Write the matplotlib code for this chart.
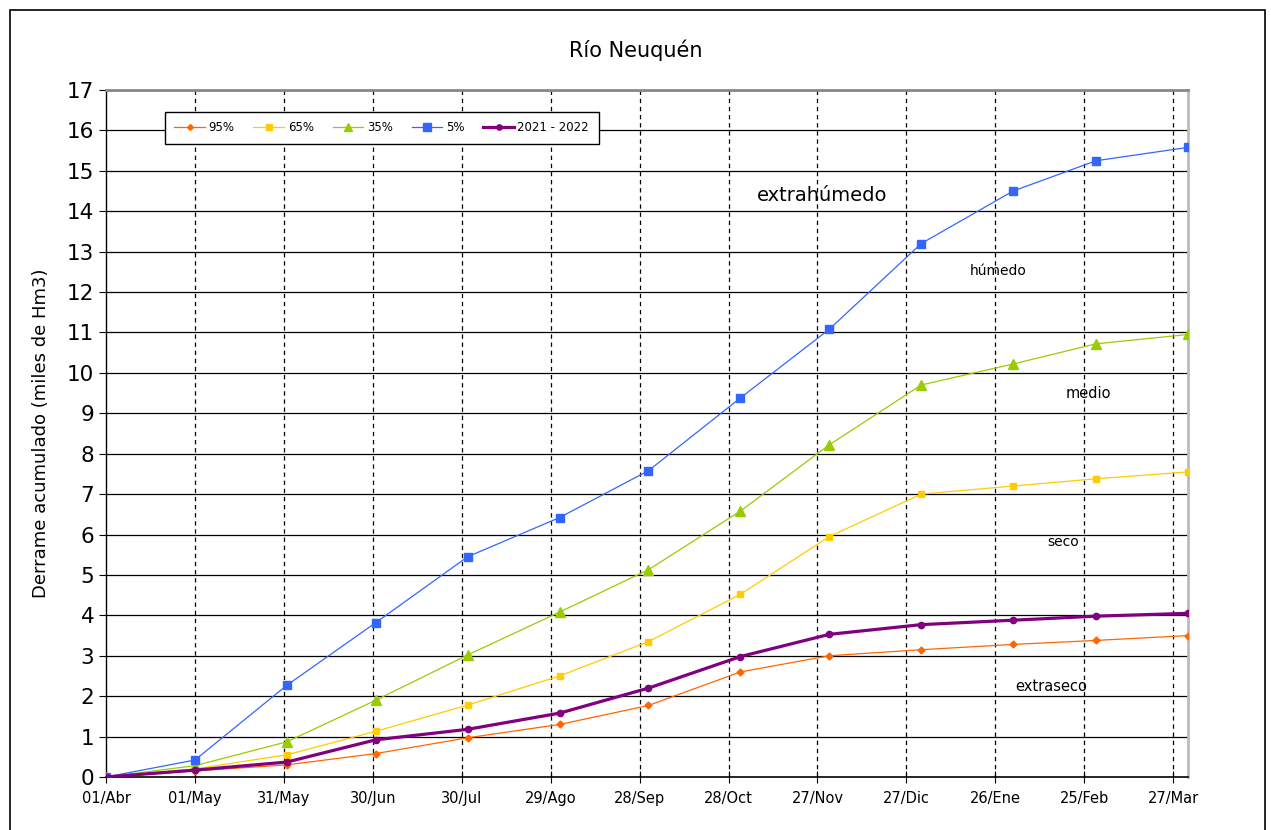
import matplotlib.pyplot as plt
from matplotlib.patches import Rectangle

# días desde 01/Abr (inicio de cada mes)
dias = [0, 30, 61, 91, 122, 153, 183, 214, 244, 275, 306, 334, 365]

p95 = [0, 0.15, 0.30, 0.58, 0.97, 1.30, 1.77, 2.60, 3.00, 3.15, 3.28, 3.38, 3.50]
p65 = [0, 0.20, 0.55, 1.13, 1.78, 2.50, 3.35, 4.52, 5.95, 7.00, 7.20, 7.38, 7.55]
p35 = [0, 0.28, 0.87, 1.90, 3.02, 4.08, 5.13, 6.58, 8.22, 9.70, 10.22, 10.72, 10.95]
p5 = [0, 0.42, 2.27, 3.82, 5.45, 6.42, 7.58, 9.38, 11.08, 13.20, 14.50, 15.25, 15.58]
actual = [0, 0.17, 0.37, 0.92, 1.18, 1.58, 2.20, 2.98, 3.53, 3.77, 3.88, 3.98, 4.05]

tick_pos = [0, 30, 60, 90, 120, 150, 180, 210, 240, 270, 300, 330, 360]
tick_labels = ['01/Abr', '01/May', '31/May', '30/Jun', '30/Jul', '29/Ago', '28/Sep',
               '28/Oct', '27/Nov', '27/Dic', '26/Ene', '25/Feb', '27/Mar']

fig = plt.figure(figsize=(12.71, 8.30), dpi=100)
ax = fig.add_axes([106 / 1271, 1 - 777 / 830, (1188 - 106) / 1271, (777 - 90) / 830])

# marco exterior
fig.patches.append(Rectangle((10 / 1271, -0.01), 1255 / 1271, 1 - 10 / 830 + 0.01,
                             transform=fig.transFigure, fill=False, edgecolor='black', lw=1.2))

for y in range(1, 18):
    ax.axhline(y, color='black', lw=0.9, zorder=1)
for x in tick_pos[1:]:
    ax.axvline(x, color='black', lw=0.9, ls=(0, (3.5, 3)), zorder=1)

ax.plot(dias, p95, color='#FF6600', lw=0.9, marker='D', ms=3.5, label='95%', zorder=3)
ax.plot(dias, p65, color='#FFCC00', lw=0.9, marker='s', ms=4.5, label='65%', zorder=3)
ax.plot(dias, p35, color='#99CC00', lw=0.9, marker='^', ms=6.5, label='35%', zorder=3)
ax.plot(dias, p5, color='#3366FF', lw=0.9, marker='s', ms=6, label='5%', zorder=3)
ax.plot(dias, actual, color='#800080', lw=2.3, marker='o', ms=4.5, label='2021 - 2022', zorder=4)

ax.set_xlim(0, 365)
ax.set_ylim(0, 17)
ax.set_yticks(range(0, 18))
ax.set_xticks(tick_pos)
ax.set_xticklabels(tick_labels, fontsize=10.5)
ax.tick_params(axis='y', labelsize=15.5, direction='out', length=5)
ax.tick_params(axis='x', direction='inout', length=8, pad=6)

ax.spines['top'].set_color('#888888')
ax.spines['top'].set_linewidth(2)
ax.spines['right'].set_color('#bbbbbb')
ax.spines['right'].set_linewidth(2)
ax.spines['left'].set_linewidth(1)
ax.spines['bottom'].set_linewidth(1.2)

ax.set_ylabel('Derrame acumulado (miles de Hm3)', fontsize=13, labelpad=12)
fig.text(0.5, 1 - 50 / 830, 'Río Neuquén', ha='center', va='center', fontsize=15)

ax.text(241.5, 14.38, 'extrahúmedo', ha='center', va='center', fontsize=14)
ax.text(301, 12.52, 'húmedo', ha='center', va='center', fontsize=10)
ax.text(331.5, 9.5, 'medio', ha='center', va='center', fontsize=10.5)
ax.text(323, 5.82, 'seco', ha='center', va='center', fontsize=10)
ax.text(319, 2.25, 'extraseco', ha='center', va='center', fontsize=10.5)

leg = ax.legend(loc='upper left', bbox_to_anchor=(53 / 1082, 1 - 16 / 687), ncol=5,
                fontsize=8.5, frameon=True, fancybox=False, framealpha=1,
                edgecolor='black', handlelength=2.6, columnspacing=1.6,
                borderpad=0.8, handletextpad=0.3, markerscale=0.85)
leg.get_frame().set_linewidth(1)
leg.set_zorder(10)

fig.savefig('out.png', dpi=100)
